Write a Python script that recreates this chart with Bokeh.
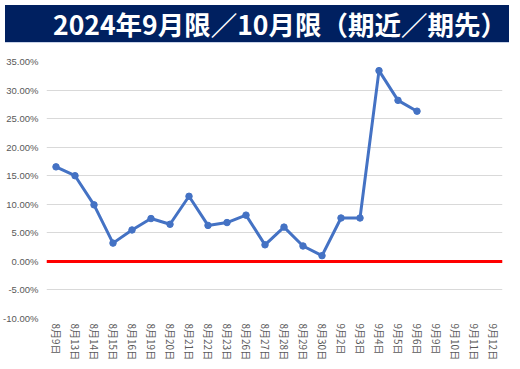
from bokeh.plotting import figure
from bokeh.models import Div, Span, NumeralTickFormatter, FixedTicker, FactorRange, Range1d
from bokeh.layouts import column
from bokeh.embed import file_html
from bokeh.resources import INLINE

title_text = "2024年9月限／10月限（期近／期先）"

dates = ["8月9日", "8月13日", "8月14日", "8月15日", "8月16日", "8月19日", "8月20日",
         "8月21日", "8月22日", "8月23日", "8月26日", "8月27日", "8月28日", "8月29日",
         "8月30日", "9月2日", "9月3日", "9月4日", "9月5日", "9月6日", "9月9日",
         "9月10日", "9月11日", "9月12日"]

spread = [0.1655, 0.150, 0.099, 0.032, 0.055, 0.075, 0.065, 0.114, 0.063, 0.068,
          0.081, 0.029, 0.060, 0.027, 0.010, 0.076, 0.076, 0.334, 0.282, 0.263]

y_ticks = [-0.10, -0.05, 0.0, 0.05, 0.10, 0.15, 0.20, 0.25, 0.30, 0.35]

W = 504

header = Div(
    text=title_text,
    width=W, height=38,
    styles={
        "background-color": "#002060",
        "color": "white",
        "font-family": "Noto Sans CJK JP",
        "font-weight": "bold",
        "font-size": "26.5px",
        "line-height": "38px",
        "text-align": "center",
        "border-bottom": "1px solid #c9d3e8",
        "box-sizing": "border-box",
        "padding-left": "46px",
        "white-space": "nowrap",
    },
)

p = figure(
    width=W, height=315,
    x_range=FactorRange(*dates),
    y_range=Range1d(y_ticks[0], y_ticks[-1]),
    output_backend="svg", toolbar_location=None,
    min_border_top=13, min_border_right=2, min_border_left=0, min_border_bottom=0,
)
p.outline_line_color = None
p.background_fill_color = "white"
p.border_fill_color = "white"

p.xgrid.grid_line_color = None
p.ygrid.grid_line_color = "#d9d9d9"
p.ygrid.grid_line_width = 1

p.yaxis.ticker = FixedTicker(ticks=y_ticks)
p.yaxis.formatter = NumeralTickFormatter(format="0.00%")
p.yaxis.axis_line_color = None
p.yaxis.major_tick_line_color = None
p.yaxis.minor_tick_line_color = None
p.yaxis.major_tick_out = 0
p.yaxis.major_label_standoff = 8
p.yaxis.major_label_text_font = "Liberation Sans"
p.yaxis.major_label_text_font_size = "9.5px"
p.yaxis.major_label_text_color = "#595959"

p.xaxis.axis_line_color = None
p.xaxis.major_tick_line_color = None
p.xaxis.major_tick_out = 0
p.xaxis.major_label_orientation = "vertical"
p.xaxis.major_label_standoff = 5
p.xaxis.major_label_text_font = "Noto Sans CJK JP"
p.xaxis.major_label_text_font_size = "10px"
p.xaxis.major_label_text_color = "#595959"

zero = Span(location=0, dimension="width", line_color="#ff0000", line_width=3)
p.add_layout(zero)

xs = dates[:len(spread)]
p.line(xs, spread, line_color="#4472c4", line_width=3)
p.scatter(xs, spread, size=6.5, fill_color="#4472c4", line_color="#4472c4")

layout = column(header, p, spacing=0)
open("out.html", "w").write(file_html(layout, INLINE))
